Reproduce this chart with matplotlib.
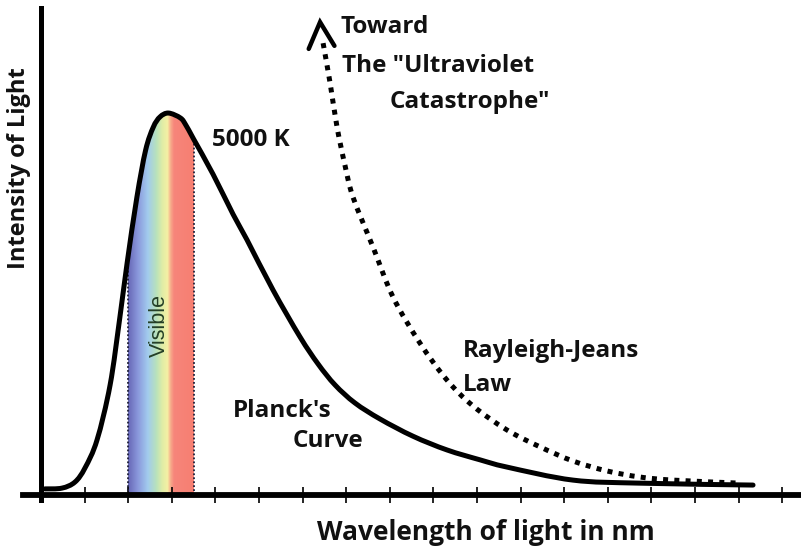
import numpy as np
import matplotlib
matplotlib.use("Agg")
import matplotlib.pyplot as plt
from matplotlib.colors import LinearSegmentedColormap
from matplotlib.path import Path
from matplotlib.patches import PathPatch

# Planck's curve for 5000 K (wavelength in nm, relative intensity)
planck_nm = [18, 96, 156, 202, 257, 317, 362, 395, 440, 480, 515, 546, 585, 640, 665, 700,
             789, 881, 945, 1064, 1188, 1271, 1349, 1440, 1555, 1706, 1862, 2014, 2138, 2440,
             2748, 3266]
planck_int = [0.016, 0.018, 0.034, 0.071, 0.144, 0.288, 0.466, 0.607, 0.780, 0.903, 0.963,
              0.990, 1.0, 0.987, 0.968, 0.932, 0.840, 0.735, 0.668, 0.537, 0.414, 0.343,
              0.288, 0.241, 0.199, 0.154, 0.118, 0.092, 0.073, 0.039, 0.031, 0.026]

# Rayleigh-Jeans law (dotted), heading off toward the ultraviolet catastrophe
rj_nm = [1294, 1326, 1358, 1394, 1431, 1523, 1615, 1738, 1862, 1982, 2138, 2289, 2440,
         2596, 2748, 2899, 3206]
rj_int = [1.183, 1.079, 0.963, 0.864, 0.780, 0.649, 0.518, 0.398, 0.301, 0.233, 0.170, 0.126,
          0.089, 0.063, 0.047, 0.039, 0.031]

# arrow head at the top of the Rayleigh-Jeans curve
arrow_nm = [1228, 1280, 1346]
arrow_int = [1.168, 1.238, 1.176]

visible_range = (400, 700)
visible_colors = ["#6767b6", "#8a98dc", "#a2cbee", "#b8e2bc", "#e0eda6", "#f5f0a4",
                  "#f7a88a", "#f7857a", "#f67f72"]
visible_stops = [0.0, 0.15, 0.30, 0.43, 0.52, 0.60, 0.65, 0.70, 1.0]

tick_nm = np.arange(0, 3401, 200)


def smooth_path(xs, ys):
    # Catmull-Rom through the points, drawn as cubic Bezier segments
    p = np.column_stack([xs, ys]).astype(float)
    ext = np.vstack([p[0], p, p[-1]])
    verts = [p[0]]
    codes = [Path.MOVETO]
    for i in range(1, len(ext) - 2):
        c1 = ext[i] + (ext[i + 1] - ext[i - 1]) / 6
        c2 = ext[i + 1] - (ext[i + 2] - ext[i]) / 6
        verts += [c1, c2, ext[i + 1]]
        codes += [Path.CURVE4] * 3
    return Path(verts, codes)


plt.rcParams["font.family"] = ["Open Sans", "DejaVu Sans"]

fig = plt.figure(figsize=(8.01, 5.5), dpi=100)
ax = fig.add_axes([0, 0, 1, 1])
ax.set_xlim(-188, 3486)
ax.set_ylim(-0.144, 1.296)

planck_path = smooth_path(planck_nm, planck_int)

# visible band: gradient clipped to the area under the curve
cmap = LinearSegmentedColormap.from_list("vis", list(zip(visible_stops, visible_colors)))
grad = np.linspace(0, 1, 256).reshape(1, -1)
img = ax.imshow(grad, cmap=cmap, aspect="auto", interpolation="bilinear",
                extent=(visible_range[0], visible_range[1], 0, 1.05), zorder=1)
clip = Path(np.vstack([planck_path.vertices, [[planck_nm[-1], 0], [planck_nm[0], 0]]]),
            list(planck_path.codes) + [Path.LINETO, Path.LINETO])
img.set_clip_path(clip, transform=ax.transData)

for edge in visible_range:
    top = np.interp(edge, planck_nm, planck_int)
    ax.plot([edge, edge], [0, top], color="#20203a", lw=1.3, ls=(0, (1, 1.2)), zorder=2)

ax.text(541, 0.445, "Visible", rotation=90, ha="center", va="center",
        fontsize=15.5, color="#243f26", family=["Liberation Sans", "DejaVu Sans"], zorder=3)

# curves
ax.add_patch(PathPatch(planck_path, fill=False, edgecolor="black", lw=3.6,
                       joinstyle="round", capstyle="round", zorder=4))
ax.add_patch(PathPatch(smooth_path(rj_nm, rj_int), fill=False, edgecolor="black", lw=3.6,
                       ls=(0, (1, 1.25)), capstyle="butt", zorder=4))
ax.plot(arrow_nm, arrow_int, color="black", lw=3.2, solid_joinstyle="miter",
        solid_capstyle="round", zorder=4)

# axes drawn as thick lines through the origin
for s in ["top", "right"]:
    ax.spines[s].set_visible(False)
ax.spines["left"].set_position(("data", 0))
ax.spines["bottom"].set_position(("data", 0))
ax.spines["left"].set_bounds(-0.013, 1.275)
ax.spines["bottom"].set_bounds(-83, 3486)
ax.spines["left"].set_linewidth(3.6)
ax.spines["bottom"].set_linewidth(4.2)
ax.spines["left"].set_zorder(5)
ax.spines["bottom"].set_zorder(5)
ax.set_yticks([])
ax.set_xticks(tick_nm)
ax.set_xticklabels([])
ax.tick_params(axis="x", direction="inout", length=11, width=1.2, color="black")

lbl = dict(fontsize=17.5, fontweight="bold", color="#111111", va="baseline", ha="left")
ax.text(1372, 1.209, "Toward", **lbl)
ax.text(1381, 1.107, 'The "Ultraviolet', **lbl)
ax.text(1601, 1.013, 'Catastrophe"', **lbl)
ax.text(784, 0.914, "5000 K", **lbl)
ax.text(1936, 0.361, "Rayleigh-Jeans", **lbl)
ax.text(1936, 0.272, "Law", **lbl)
ax.text(881, 0.204, "Planck's", **lbl)
ax.text(1156, 0.126, "Curve", **lbl)

ax.text(2041, -0.118, "Wavelength of light in nm", fontsize=19, fontweight="bold",
        color="#111111", ha="center", va="baseline")
ax.text(-100, 0.856, "Intensity of Light", fontsize=17, fontweight="bold",
        color="#111111", ha="center", va="center", rotation=90)

fig.savefig("out.png", dpi=100)
